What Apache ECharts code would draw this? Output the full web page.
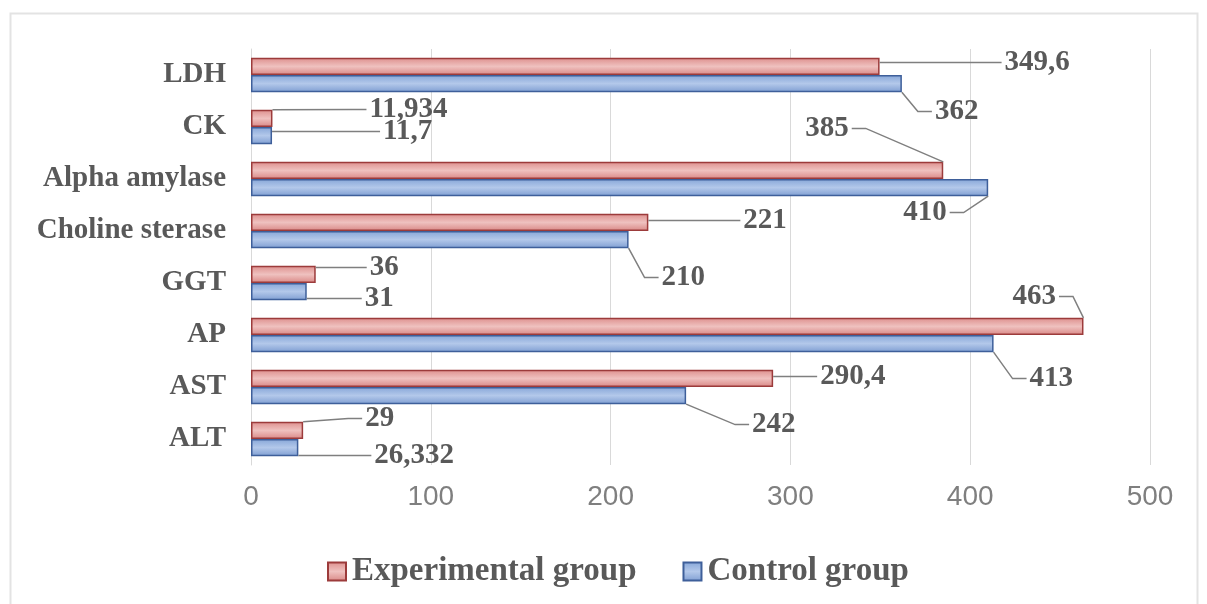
<!DOCTYPE html>
<html>
<head>
<meta charset="utf-8">
<script src="https://cdn.jsdelivr.net/npm/echarts@6/dist/echarts.min.js"></script>
<style>
  html, body { margin: 0; padding: 0; background: #fff; }
  #chart { width: 1207px; height: 604px; }
</style>
</head>
<body>
<div id="chart"></div>
<script>
// Enzyme activity, bottom to top on the category axis
const categories = ['ALT', 'AST', 'AP', 'GGT', 'Choline sterase', 'Alpha amylase', 'CK', 'LDH'];
const experimentalValues = [29, 290.4, 463, 36, 221, 385, 11.934, 349.6];
const controlValues = [26.332, 242, 413, 31, 210, 410, 11.7, 362];
const xTicks = [0, 100, 200, 300, 400, 500];

// Callout offsets for value labels (pixels from the spot just right of the bar end)
const experimentalLabelShift = [[57, -12], [42, -2], [-76, -30], [49, -7], [90, -2], [-143, -42], [92, -9], [120, -4]];
const controlLabelShift = [[71, 8], [61, 29], [31, 35], [53, 7], [28, 38], [-90, 25], [106, -4], [28, 28]];

const serif = '"Liberation Serif", "Times New Roman", serif';
const labelColor = '#595959';
const labelFont = 'bold 29px ' + serif;
const BAR_CATEGORY_GAP = 0.34;

function commaDecimal(v) {
  return String(v).replace('.', ',');
}

// Text width measuring for callout placement
const measureCtx = document.createElement('canvas').getContext('2d');
function textWidth(str) {
  measureCtx.font = labelFont;
  return measureCtx.measureText(str).width;
}

function barFill(top, mid, bottom) {
  return new echarts.graphic.LinearGradient(0, 0, 0, 1, [
    { offset: 0, color: top },
    { offset: 0.5, color: mid },
    { offset: 1, color: bottom }
  ]);
}

const redFill = barFill('#dd8f8d', '#efc1bf', '#d98886');
const blueFill = barFill('#86a6d8', '#b3c8ea', '#7f9ed2');

// Value callouts: label text plus an elbow leader line back to the bar end.
// slot 0 = upper bar of the pair (experimental), slot 1 = lower bar (control)
function calloutSeries(name, values, shifts, slot) {
  return {
    name: name,
    type: 'custom',
    silent: true,
    z: 5,
    data: values.map((v, i) => [v, i]),
    renderItem: function (params, api) {
      const v = api.value(0);
      const ci = api.value(1);
      const end = api.coord([v, ci]);
      const band = api.size([0, 1])[1];
      const barH = band * (1 - BAR_CATEGORY_GAP) / 2;
      const barCenter = end[1] + (slot === 0 ? -barH / 2 : barH / 2);
      const barTop = barCenter - barH / 2;
      const barBottom = barCenter + barH / 2;
      const [dx, dy] = shifts[params.dataIndex];
      const text = commaDecimal(v);
      const w = textWidth(text);
      const lx = end[0] + 5 + dx;
      const ly = barCenter + dy;
      const onRight = lx >= end[0];
      const anchorX = onRight ? lx - 3 : lx + w + 3;
      const elbowX = onRight ? anchorX - 14 : anchorX + 14;
      const attachY = Math.min(Math.max(ly, barTop), barBottom);
      return {
        type: 'group',
        children: [
          {
            type: 'polyline',
            shape: { points: [[anchorX, ly], [elbowX, ly], [end[0], attachY]] },
            style: { stroke: '#7f7f7f', lineWidth: 1.5, fill: null }
          },
          {
            type: 'text',
            style: {
              x: lx, y: ly, text: text, font: labelFont, fill: labelColor,
              align: 'left', verticalAlign: 'middle'
            }
          }
        ]
      };
    }
  };
}

const chart = echarts.init(document.getElementById('chart'), null, { renderer: 'canvas' });

chart.setOption({
  animation: false,
  backgroundColor: '#ffffff',
  graphic: [{
    type: 'rect',
    shape: { x: 10.5, y: 13.5, width: 1187, height: 620 },
    style: { fill: 'none', stroke: '#e3e3e3', lineWidth: 2 },
    silent: true,
    z: -1
  }],
  grid: { left: 251, right: 57, top: 49, bottom: 139, containLabel: false },
  legend: {
    data: ['Experimental group', 'Control group'],
    top: 550,
    left: 322,
    itemWidth: 18,
    itemHeight: 18,
    itemGap: 46,
    icon: 'rect',
    textStyle: { fontFamily: serif, fontWeight: 'bold', fontSize: 33, color: labelColor, padding: [0, 0, 0, 1] }
  },
  xAxis: {
    type: 'value',
    min: xTicks[0],
    max: xTicks[xTicks.length - 1],
    interval: xTicks[1] - xTicks[0],
    axisLine: { show: false },
    axisTick: { show: false },
    splitLine: { show: true, lineStyle: { color: '#d9d9d9', width: 1 } },
    axisLabel: { fontFamily: '"Liberation Sans", Arial, sans-serif', fontSize: 28, color: '#7f7f7f', margin: 18 }
  },
  yAxis: {
    type: 'category',
    data: categories,
    axisLine: { show: true, lineStyle: { color: '#d9d9d9' } },
    axisTick: { show: false },
    axisLabel: { fontFamily: serif, fontWeight: 'bold', fontSize: 29, color: labelColor, margin: 25 }
  },
  series: [
    {
      name: 'Experimental group',
      type: 'bar',
      data: experimentalValues,
      barGap: '0%',
      barCategoryGap: (BAR_CATEGORY_GAP * 100) + '%',
      itemStyle: { color: redFill, borderColor: '#9c3b3b', borderWidth: 1.5 }
    },
    {
      name: 'Control group',
      type: 'bar',
      data: controlValues,
      barGap: '0%',
      barCategoryGap: (BAR_CATEGORY_GAP * 100) + '%',
      itemStyle: { color: blueFill, borderColor: '#3e5f9a', borderWidth: 1.5 }
    },
    calloutSeries('Experimental values', experimentalValues, experimentalLabelShift, 0),
    calloutSeries('Control values', controlValues, controlLabelShift, 1)
  ]
});
</script>
</body>
</html>
